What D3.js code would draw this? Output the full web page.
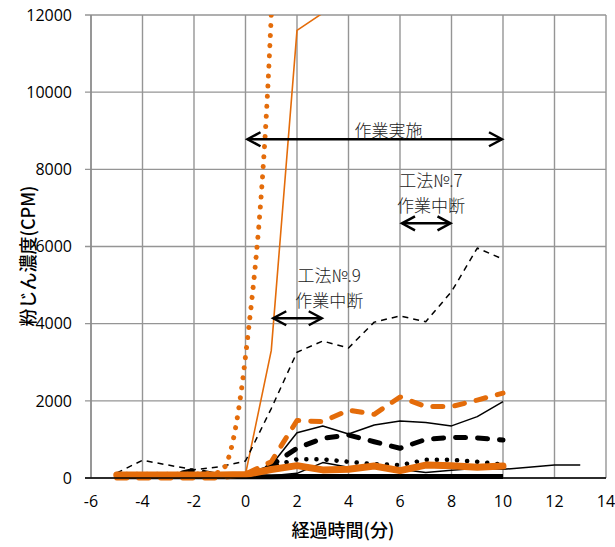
<!DOCTYPE html>
<html>
<head>
<meta charset="utf-8">
<script src="https://cdn.jsdelivr.net/npm/d3@7"></script>
<style>
  body { margin: 0; background: #fff; }
  svg { display: block; }
  .tick-label { font-family: "Open Sans", "DejaVu Sans", sans-serif; font-size: 16px; fill: #000; }
  .axis-title { font-family: "Noto Sans CJK JP", sans-serif; font-weight: 500; font-size: 18px; fill: #000; }
  .note { font-family: "Noto Sans CJK JP", sans-serif; font-weight: 300; font-size: 17px; fill: #222; }
</style>
</head>
<body>
<div id="chart"></div>
<script>
// elapsed time (min)
const minutes = [-5, -4, -3, -2, -1, 0, 1, 2, 3, 4, 5, 6, 7, 8, 9, 10];
const minutesLong = [-5, -4, -3, -2, -1, 0, 1, 2, 3, 4, 5, 6, 7, 8, 9, 10, 11, 12, 13];
const minutesSpike = [-5, -4, -3, -2, -1, 0, 1, 2, 3];

// dust concentration (CPM), one array per measurement
const blackThick     = [30, 30, 30, 30, 30, 30, 30, 40, 40, 40, 40, 40, 40, 40, 40, 40];
const blackThinLow   = [40, 40, 40, 40, 40, 50, 60, 120, 400, 280, 250, 225, 140, 200, 250, 225, 280, 340, 335];
const orangeThin     = [100, 100, 100, 100, 100, 100, 3300, 11600, 12050];
const blackDashThin  = [130, 460, 335, 215, 290, 440, 1800, 3260, 3550, 3370, 4040, 4200, 4050, 4830, 5960, 5670];
const blackThinHigh  = [50, 50, 50, 50, 50, 100, 330, 1175, 1350, 1140, 1375, 1480, 1440, 1350, 1590, 1980];
const blackThickDash = [50, 50, 50, 200, 60, 100, 330, 770, 1030, 1115, 940, 770, 1000, 1055, 1040, 985];
const blackDotted    = [50, 50, 50, 50, 50, 80, 300, 485, 485, 420, 360, 335, 470, 470, 420, 350];
const orangeDash     = [0, 0, 0, 0, 0, 100, 420, 1490, 1460, 1760, 1650, 2100, 1850, 1850, 2020, 2200];
const orangeDotted   = [100, 100, 100, 100, 150, 3150, 12000, 34000];
const orangeThick    = [80, 80, 80, 80, 80, 90, 220, 320, 210, 225, 310, 190, 335, 320, 280, 310];

// axis ticks
const xTicks = [-6, -4, -2, 0, 2, 4, 6, 8, 10, 12, 14];
const yTicks = [0, 2000, 4000, 6000, 8000, 10000, 12000];

// annotation arrows (minutes, CPM) and where their labels sit
const spans = [
    { from: 0, to: 10, level: 8780, labelAt: 5.55, lines: ["作業実施"] },
    { from: 6, to: 8, level: 6600, labelAt: 7.2, lines: ["工法№.7", "作業中断"] },
    { from: 1, to: 3, level: 4140, labelAt: 3.25, lines: ["工法№.9", "作業中断"] }
];

const ORANGE = "#E46C0A";
const W = 615, H = 547;
const plotLeft = 91, plotRight = 606, plotTop = 15, plotBottom = 478;

const svg = d3.select("#chart").append("svg")
    .attr("width", W)
    .attr("height", H);

const x = d3.scaleLinear().domain([-6, 14]).range([plotLeft, plotRight]);
const y = d3.scaleLinear().domain([0, 12000]).range([plotBottom, plotTop]);

// gridlines
const grid = svg.append("g").attr("stroke", "#959595").attr("stroke-width", 1.4);
xTicks.forEach(t => {
    grid.append("line").attr("x1", x(t)).attr("x2", x(t)).attr("y1", plotTop).attr("y2", plotBottom);
});
yTicks.forEach(t => {
    grid.append("line").attr("x1", plotLeft - 6).attr("x2", plotRight).attr("y1", y(t)).attr("y2", y(t));
});

// tick labels
svg.append("g").selectAll("text").data(yTicks).join("text")
    .attr("class", "tick-label")
    .attr("x", 72)
    .attr("y", d => y(d))
    .attr("dy", "0.36em")
    .attr("text-anchor", "end")
    .text(d => d);

svg.append("g").selectAll("text").data(xTicks).join("text")
    .attr("class", "tick-label")
    .attr("x", d => x(d))
    .attr("y", 507)
    .attr("text-anchor", "middle")
    .text(d => d);

// axis titles
svg.append("text")
    .attr("class", "axis-title")
    .attr("transform", "translate(35, 256) rotate(-90)")
    .attr("text-anchor", "middle")
    .text("粉じん濃度(CPM)");

svg.append("text")
    .attr("class", "axis-title")
    .attr("x", 343)
    .attr("y", 537)
    .attr("text-anchor", "middle")
    .text("経過時間(分)");

// clip at the top of the plot only
svg.append("clipPath").attr("id", "plot-clip")
    .append("rect")
    .attr("x", plotLeft).attr("y", plotTop)
    .attr("width", plotRight - plotLeft).attr("height", plotBottom - plotTop + 12);

const plot = svg.append("g").attr("clip-path", "url(#plot-clip)");

function drawSeries(xs, ys, style, curve) {
    const line = d3.line()
        .x((d, i) => x(xs[i]))
        .y(d => y(d))
        .curve(curve || d3.curveLinear);
    plot.append("path")
        .datum(ys)
        .attr("fill", "none")
        .attr("stroke", style.color)
        .attr("stroke-width", style.width)
        .attr("stroke-dasharray", style.dash || null)
        .attr("stroke-linecap", style.cap || "butt")
        .attr("stroke-linejoin", "round")
        .attr("d", line);
}

drawSeries(minutes, blackThick, { color: "#000", width: 5 });
drawSeries(minutesLong, blackThinLow, { color: "#000", width: 1.5 });
drawSeries(minutesSpike, orangeThin, { color: ORANGE, width: 1.6 });
drawSeries(minutes, blackDashThin, { color: "#000", width: 1.5, dash: "6,5" });
drawSeries(minutes, blackThinHigh, { color: "#000", width: 1.5 });
drawSeries(minutes, blackThickDash, { color: "#000", width: 5, dash: "10,12", cap: "round" });
drawSeries(minutes, blackDotted, { color: "#000", width: 4.5, dash: "0.1,10", cap: "round" });
drawSeries(minutes, orangeDash, { color: ORANGE, width: 5, dash: "10,12", cap: "round" });
drawSeries(minutesSpike.slice(0, orangeDotted.length), orangeDotted,
    { color: ORANGE, width: 5, dash: "0.1,10", cap: "round" }, d3.curveMonotoneX);
drawSeries(minutes, orangeThick, { color: ORANGE, width: 7, cap: "round" });

// axis lines
svg.append("line")
    .attr("x1", plotLeft).attr("x2", plotLeft).attr("y1", plotTop).attr("y2", plotBottom)
    .attr("stroke", "#8a8a8a").attr("stroke-width", 1.4);
svg.append("line")
    .attr("x1", plotLeft - 6).attr("x2", plotRight).attr("y1", plotBottom).attr("y2", plotBottom)
    .attr("stroke", "#000").attr("stroke-width", 1.5);

// annotation arrows
const notes = svg.append("g");
spans.forEach(s => {
    const yy = y(s.level);
    const x1 = x(s.from) + 2, x2 = x(s.to) - 1;
    notes.append("line")
        .attr("x1", x1).attr("x2", x2).attr("y1", yy).attr("y2", yy)
        .attr("stroke", "#000").attr("stroke-width", 2.5);
    notes.append("path")
        .attr("d", `M${x1 + 13},${yy - 7}L${x1},${yy}L${x1 + 13},${yy + 7}`)
        .attr("fill", "none").attr("stroke", "#000").attr("stroke-width", 2.5);
    notes.append("path")
        .attr("d", `M${x2 - 13},${yy - 7}L${x2},${yy}L${x2 - 13},${yy + 7}`)
        .attr("fill", "none").attr("stroke", "#000").attr("stroke-width", 2.5);

    // labels: single line sits on the arrow, two lines sit above it
    const n = s.lines.length;
    s.lines.forEach((t, i) => {
        const base = n === 1 ? y(s.level) - 2 : y(s.level) - 36 + i * 25;
        notes.append("text").attr("class", "note")
            .attr("x", x(s.labelAt)).attr("y", base)
            .attr("text-anchor", "middle").text(t);
    });
});
</script>
</body>
</html>
